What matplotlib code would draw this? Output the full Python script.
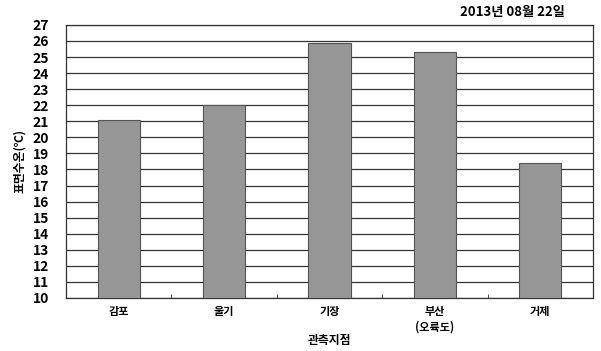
import matplotlib
matplotlib.use("Agg")
import matplotlib.pyplot as plt
import numpy as np

plt.rcParams['font.family'] = ['Noto Sans CJK KR', 'DejaVu Sans']

categories = ['감포', '울기', '기장', '부산\n(오륙도)', '거제']
values = [21.1, 22.0, 25.9, 25.3, 18.4]
yticks = list(range(10, 28))

fig = plt.figure(figsize=(6.01, 3.51), dpi=100)
ax = fig.add_axes([0.1098, 0.151, 0.877, 0.778])

x = np.arange(len(categories))
ax.bar(x, values, width=0.4, color='#969696', edgecolor='#555555', linewidth=0.8, zorder=3)
ax.set_xlim(-0.5, len(categories) - 0.5)
ax.set_ylim(10, 27)
ax.set_yticks(yticks)
ax.set_yticklabels([str(t) for t in yticks], fontsize=10, fontweight='bold')
ax.yaxis.grid(True, color='#333333', linewidth=0.9, zorder=0)
ax.tick_params(axis='y', length=0, pad=12)

ax.set_xticks(x)
ax.set_xticklabels(categories, fontsize=8, fontweight='bold', linespacing=1.3)
ax.tick_params(axis='x', length=0, pad=5)
ax.set_xticks(np.arange(0.5, len(categories) - 1, 1), minor=True)
ax.tick_params(axis='x', which='minor', direction='in', length=3, color='#333333')

for s in ax.spines.values():
    s.set_color('#333333')
    s.set_linewidth(0.9)

ax.set_xlabel('관측지점', fontsize=8.5, fontweight='bold', va='center')
ax.xaxis.set_label_coords(0.5, -0.155)
ax.set_ylabel('표면수온(℃)', fontsize=8.5, fontweight='bold', va='center')
ax.yaxis.set_label_coords(-0.088, 0.5)
fig.text(0.94, 0.965, '2013년 08월 22일', ha='right', va='center', fontsize=9.5, fontweight='bold')

fig.savefig('out.png', dpi=100)
